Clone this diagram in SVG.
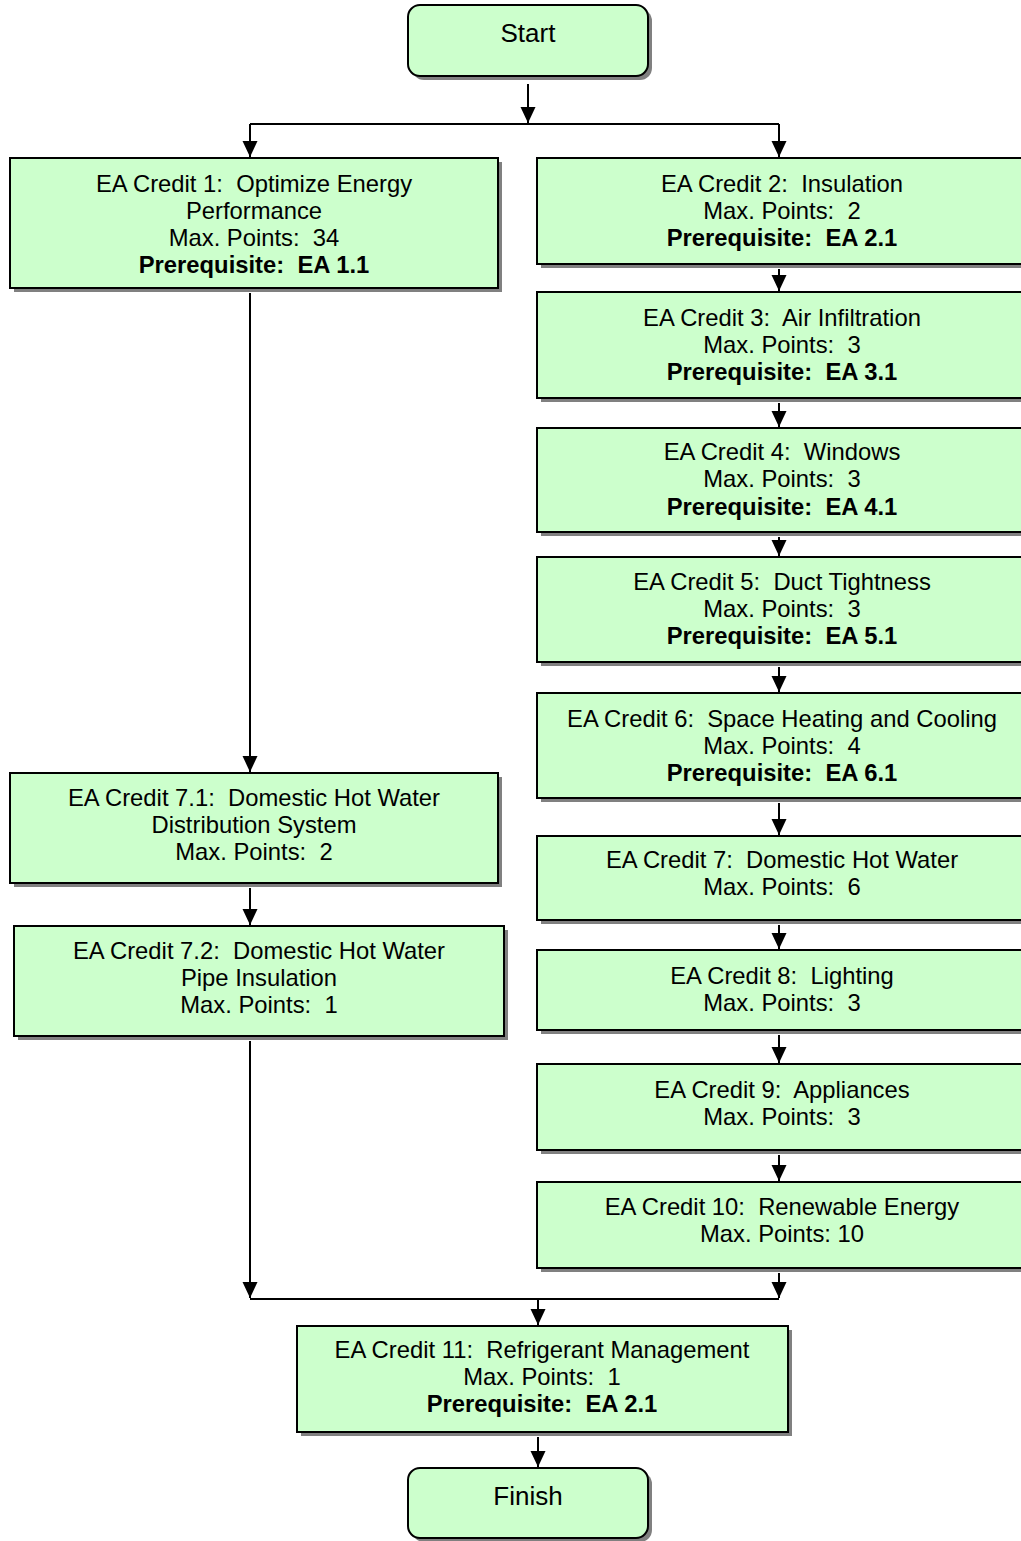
<svg xmlns="http://www.w3.org/2000/svg" width="1021" height="1541" viewBox="0 0 1021 1541">
<style>
.box{fill:#CCFFCC;stroke:#000;stroke-width:2}
.sh{fill:#808080}
text{font-family:"Liberation Sans",Arial,sans-serif;font-size:23.8px;text-anchor:middle;fill:#000;white-space:pre}
.b{font-weight:bold}
.t{font-size:26px}
.c{fill:none;stroke:#000;stroke-width:2}
</style>
<defs>
<marker id="ah" markerWidth="16" markerHeight="16" viewBox="0 0 16 16" refX="16" refY="8" orient="auto" markerUnits="userSpaceOnUse">
<path d="M0,0.5 L16,8 L0,15.5 z" fill="#000"/>
</marker>
</defs>
<rect width="1021" height="1541" fill="#fff"/>
<g id="connectors">
<path class="c" d="M528,84 V123" marker-end="url(#ah)"/>
<path class="c" d="M250,124 H779"/>
<path class="c" d="M250,124 V157" marker-end="url(#ah)"/>
<path class="c" d="M779,124 V157" marker-end="url(#ah)"/>
<path class="c" d="M779,269 V291" marker-end="url(#ah)"/>
<path class="c" d="M779,403 V427" marker-end="url(#ah)"/>
<path class="c" d="M779,537 V556" marker-end="url(#ah)"/>
<path class="c" d="M779,667 V692" marker-end="url(#ah)"/>
<path class="c" d="M779,803 V835" marker-end="url(#ah)"/>
<path class="c" d="M779,925 V949" marker-end="url(#ah)"/>
<path class="c" d="M779,1035 V1063" marker-end="url(#ah)"/>
<path class="c" d="M779,1155 V1181" marker-end="url(#ah)"/>
<path class="c" d="M779,1273 V1298" marker-end="url(#ah)"/>
<path class="c" d="M250,293 V772" marker-end="url(#ah)"/>
<path class="c" d="M250,888 V925" marker-end="url(#ah)"/>
<path class="c" d="M250,1041 V1298" marker-end="url(#ah)"/>
<path class="c" d="M250,1299 H779"/>
<path class="c" d="M538,1299 V1325" marker-end="url(#ah)"/>
<path class="c" d="M538,1437 V1467" marker-end="url(#ah)"/>
</g>
<g id="start">
<rect class="sh" x="412" y="9" width="240" height="71" rx="12"/>
<rect class="box" x="408" y="5" width="240" height="71" rx="12"/>
<text x="528" y="42" class="t">Start</text>
</g>
<g id="credit1">
<rect class="sh" x="14" y="162" width="488" height="130"/>
<rect class="box" x="10" y="158" width="488" height="130"/>
<text x="254" y="192">EA Credit 1:  Optimize Energy</text>
<text x="254" y="219">Performance</text>
<text x="254" y="246">Max. Points:  34</text>
<text x="254" y="273" class="b">Prerequisite:  EA 1.1</text>
</g>
<g id="credit2">
<rect class="sh" x="541" y="162" width="490" height="106"/>
<rect class="box" x="537" y="158" width="490" height="106"/>
<text x="782" y="192">EA Credit 2:  Insulation</text>
<text x="782" y="219">Max. Points:  2</text>
<text x="782" y="246" class="b">Prerequisite:  EA 2.1</text>
</g>
<g id="credit3">
<rect class="sh" x="541" y="296" width="490" height="106"/>
<rect class="box" x="537" y="292" width="490" height="106"/>
<text x="782" y="326">EA Credit 3:  Air Infiltration</text>
<text x="782" y="353">Max. Points:  3</text>
<text x="782" y="380" class="b">Prerequisite:  EA 3.1</text>
</g>
<g id="credit4">
<rect class="sh" x="541" y="432" width="490" height="104"/>
<rect class="box" x="537" y="428" width="490" height="104"/>
<text x="782" y="460">EA Credit 4:  Windows</text>
<text x="782" y="487">Max. Points:  3</text>
<text x="782" y="515" class="b">Prerequisite:  EA 4.1</text>
</g>
<g id="credit5">
<rect class="sh" x="541" y="561" width="490" height="105"/>
<rect class="box" x="537" y="557" width="490" height="105"/>
<text x="782" y="590">EA Credit 5:  Duct Tightness</text>
<text x="782" y="617">Max. Points:  3</text>
<text x="782" y="644" class="b">Prerequisite:  EA 5.1</text>
</g>
<g id="credit6">
<rect class="sh" x="541" y="697" width="490" height="105"/>
<rect class="box" x="537" y="693" width="490" height="105"/>
<text x="782" y="727">EA Credit 6:  Space Heating and Cooling</text>
<text x="782" y="754">Max. Points:  4</text>
<text x="782" y="781" class="b">Prerequisite:  EA 6.1</text>
</g>
<g id="credit7">
<rect class="sh" x="541" y="840" width="490" height="84"/>
<rect class="box" x="537" y="836" width="490" height="84"/>
<text x="782" y="868">EA Credit 7:  Domestic Hot Water</text>
<text x="782" y="895">Max. Points:  6</text>
</g>
<g id="credit8">
<rect class="sh" x="541" y="954" width="490" height="80"/>
<rect class="box" x="537" y="950" width="490" height="80"/>
<text x="782" y="984">EA Credit 8:  Lighting</text>
<text x="782" y="1011">Max. Points:  3</text>
</g>
<g id="credit9">
<rect class="sh" x="541" y="1068" width="490" height="86"/>
<rect class="box" x="537" y="1064" width="490" height="86"/>
<text x="782" y="1098">EA Credit 9:  Appliances</text>
<text x="782" y="1125">Max. Points:  3</text>
</g>
<g id="credit10">
<rect class="sh" x="541" y="1186" width="490" height="86"/>
<rect class="box" x="537" y="1182" width="490" height="86"/>
<text x="782" y="1215">EA Credit 10:  Renewable Energy</text>
<text x="782" y="1242">Max. Points: 10</text>
</g>
<g id="credit71">
<rect class="sh" x="14" y="777" width="488" height="110"/>
<rect class="box" x="10" y="773" width="488" height="110"/>
<text x="254" y="806">EA Credit 7.1:  Domestic Hot Water</text>
<text x="254" y="833">Distribution System</text>
<text x="254" y="860">Max. Points:  2</text>
</g>
<g id="credit72">
<rect class="sh" x="18" y="930" width="490" height="110"/>
<rect class="box" x="14" y="926" width="490" height="110"/>
<text x="259" y="959">EA Credit 7.2:  Domestic Hot Water</text>
<text x="259" y="986">Pipe Insulation</text>
<text x="259" y="1013">Max. Points:  1</text>
</g>
<g id="credit11">
<rect class="sh" x="301" y="1330" width="491" height="106"/>
<rect class="box" x="297" y="1326" width="491" height="106"/>
<text x="542" y="1358">EA Credit 11:  Refrigerant Management</text>
<text x="542" y="1385">Max. Points:  1</text>
<text x="542" y="1412" class="b">Prerequisite:  EA 2.1</text>
</g>
<g id="finish">
<rect class="sh" x="412" y="1472" width="240" height="70" rx="12"/>
<rect class="box" x="408" y="1468" width="240" height="70" rx="12"/>
<text x="528" y="1505" class="t">Finish</text>
</g>
</svg>
